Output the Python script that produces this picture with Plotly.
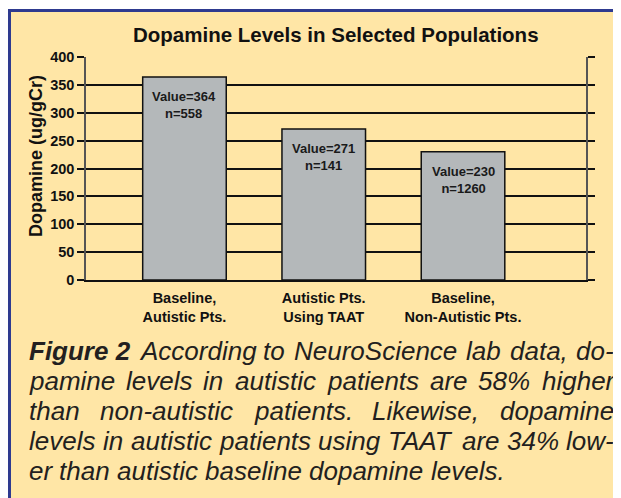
import plotly.graph_objects as go

# ---------------- data ----------------
categories = ["Baseline,<br>Autistic Pts.", "Autistic Pts.<br>Using TAAT", "Baseline,<br>Non-Autistic Pts."]
values = [364, 271, 230]
sample_sizes = [558, 141, 1260]
y_tick_values = [0, 50, 100, 150, 200, 250, 300, 350, 400]
chart_title = "Dopamine Levels in Selected Populations"
y_axis_title = "Dopamine (ug/gCr)"
caption_label = "Figure 2"
caption_lines = [
    "According to NeuroScience lab data, do-",
    "pamine levels in autistic patients are 58% higher",
    "than non-autistic patients. Likewise, dopamine",
    "levels in autistic patients using TAAT are 34% low-",
    "er than autistic baseline dopamine levels.",
]

# ---------------- layout geometry (page pixels) ----------------
W, H = 621, 498
OFF = 8  # page offset of the figure (browser body margin)
PL, PR, PT, PB = 86, 586, 57, 280  # plot area in page pixels
FONT = "Liberation Sans, Arial, sans-serif"


def px2x(px):
    return (px - PL) / (PR - PL)


def py2y(py):
    return (PB - py) / (PB - PT)


# Arial / Liberation Sans advance widths (per 1000 em)
REG = {" ": 278, "a": 556, "b": 556, "c": 500, "d": 556, "e": 556, "f": 278, "g": 556, "h": 556,
       "i": 222, "j": 222, "k": 500, "l": 222, "m": 833, "n": 556, "o": 556, "p": 556, "q": 556,
       "r": 333, "s": 500, "t": 278, "u": 556, "v": 500, "w": 722, "x": 500, "y": 500, "z": 500,
       "A": 667, "L": 556, "N": 722, "S": 667, "T": 611, "%": 889, ",": 278, ".": 278, "-": 333}
for d in "0123456789":
    REG[d] = 556
BOLD = {" ": 278, "F": 611, "i": 278, "g": 611, "u": 611, "r": 389, "e": 556, "2": 556}


def tw(s, size, bold=False):
    tab = BOLD if bold else REG
    return sum(tab.get(c, 556) for c in s) * size / 1000.0


fig = go.Figure()

fig.add_trace(go.Bar(
    x=list(range(len(values))),
    y=values,
    width=0.6,
    marker=dict(color="#B4B8BA", line=dict(color="#111111", width=1.5)),
    hoverinfo="skip",
))

annotations = []

# bar labels
for i, (v, n) in enumerate(zip(values, sample_sizes)):
    annotations.append(dict(
        x=i, y=v, xref="x", yref="y", yanchor="top", yshift=-10,
        text=f"<b>Value={v}<br>n={n}</b>", showarrow=False,
        font=dict(family=FONT, size=13, color="#1a1a1a"),
    ))

# title
annotations.append(dict(
    x=px2x(336), y=py2y(35), xref="paper", yref="paper", xanchor="center", yanchor="middle",
    text=f"<b>{chart_title}</b>", showarrow=False,
    font=dict(family=FONT, size=20.5, color="#111111"),
))

# y axis title
annotations.append(dict(
    x=px2x(36), y=py2y(156), xref="paper", yref="paper", xanchor="center", yanchor="middle",
    text=f"<b>{y_axis_title}</b>", textangle=-90, showarrow=False,
    font=dict(family=FONT, size=18, color="#111111"),
))

# caption, justified
CAP_SIZE = 26
CAP_LEFT, CAP_RIGHT = 29, 614
line_centers = [351, 381, 411, 441, 471]
for li, line in enumerate(caption_lines):
    words = [(w, False) for w in line.split()]
    if li == 0:
        words = [(caption_label, True)] + words
    widths = [tw(w, CAP_SIZE, b) for w, b in words]
    last = li == len(caption_lines) - 1
    if last or len(words) < 2:
        gap = tw(" ", CAP_SIZE)
    else:
        gap = (CAP_RIGHT - CAP_LEFT - sum(widths)) / (len(words) - 1)
    xpos = CAP_LEFT
    for (w, b), wd in zip(words, widths):
        txt = f"<b><i>{w}</i></b>" if b else f"<i>{w}</i>"
        annotations.append(dict(
            x=px2x(xpos), y=py2y(line_centers[li]), xref="paper", yref="paper",
            xanchor="left", yanchor="middle", text=txt, showarrow=False,
            borderpad=0, borderwidth=0,
            font=dict(family=FONT, size=CAP_SIZE, color="#231F20"),
        ))
        xpos += wd + gap

# background panel shapes (blue border, yellow panel)
shapes = [
    dict(type="rect", xref="paper", yref="paper", layer="below",
         x0=px2x(8), x1=px2x(W + 20), y0=py2y(9), y1=py2y(H + 20),
         fillcolor="#2E3A8F", line=dict(width=0)),
    dict(type="rect", xref="paper", yref="paper", layer="below",
         x0=px2x(11), x1=px2x(W + 20), y0=py2y(12), y1=py2y(H + 20),
         fillcolor="#FFE6A6", line=dict(width=0)),
]

fig.update_layout(
    width=W, height=H,
    template="none",
    margin=dict(l=PL - OFF, r=W - (PR - OFF), t=PT - OFF, b=H - (PB - OFF), autoexpand=False),
    paper_bgcolor="#FFFFFF",
    plot_bgcolor="rgba(0,0,0,0)",
    showlegend=False,
    annotations=annotations,
    shapes=shapes,
)

fig.update_xaxes(
    range=[-0.707, 2.883],
    tickmode="array", tickvals=list(range(len(categories))),
    ticktext=categories,
    tickfont=dict(family=FONT, size=14.5, color="#111111", weight="bold"),
    ticklabelstandoff=4,
    showgrid=False, zeroline=False, ticks="",
    showline=True, linecolor="#111111", linewidth=1.5,
    automargin=False, fixedrange=True,
)

fig.update_yaxes(
    range=[0, 400],
    tickmode="array", tickvals=y_tick_values,
    tickfont=dict(family=FONT, size=14.5, color="#111111", weight="bold"),
    showgrid=True, gridcolor="#111111", gridwidth=1.8,
    zeroline=False,
    ticks="outside", ticklen=7, tickwidth=1.8, tickcolor="#111111",
    showline=True, linecolor="#555555", linewidth=1.5, mirror="ticks",
    automargin=False, fixedrange=True,
)

fig.write_html("out.html")
